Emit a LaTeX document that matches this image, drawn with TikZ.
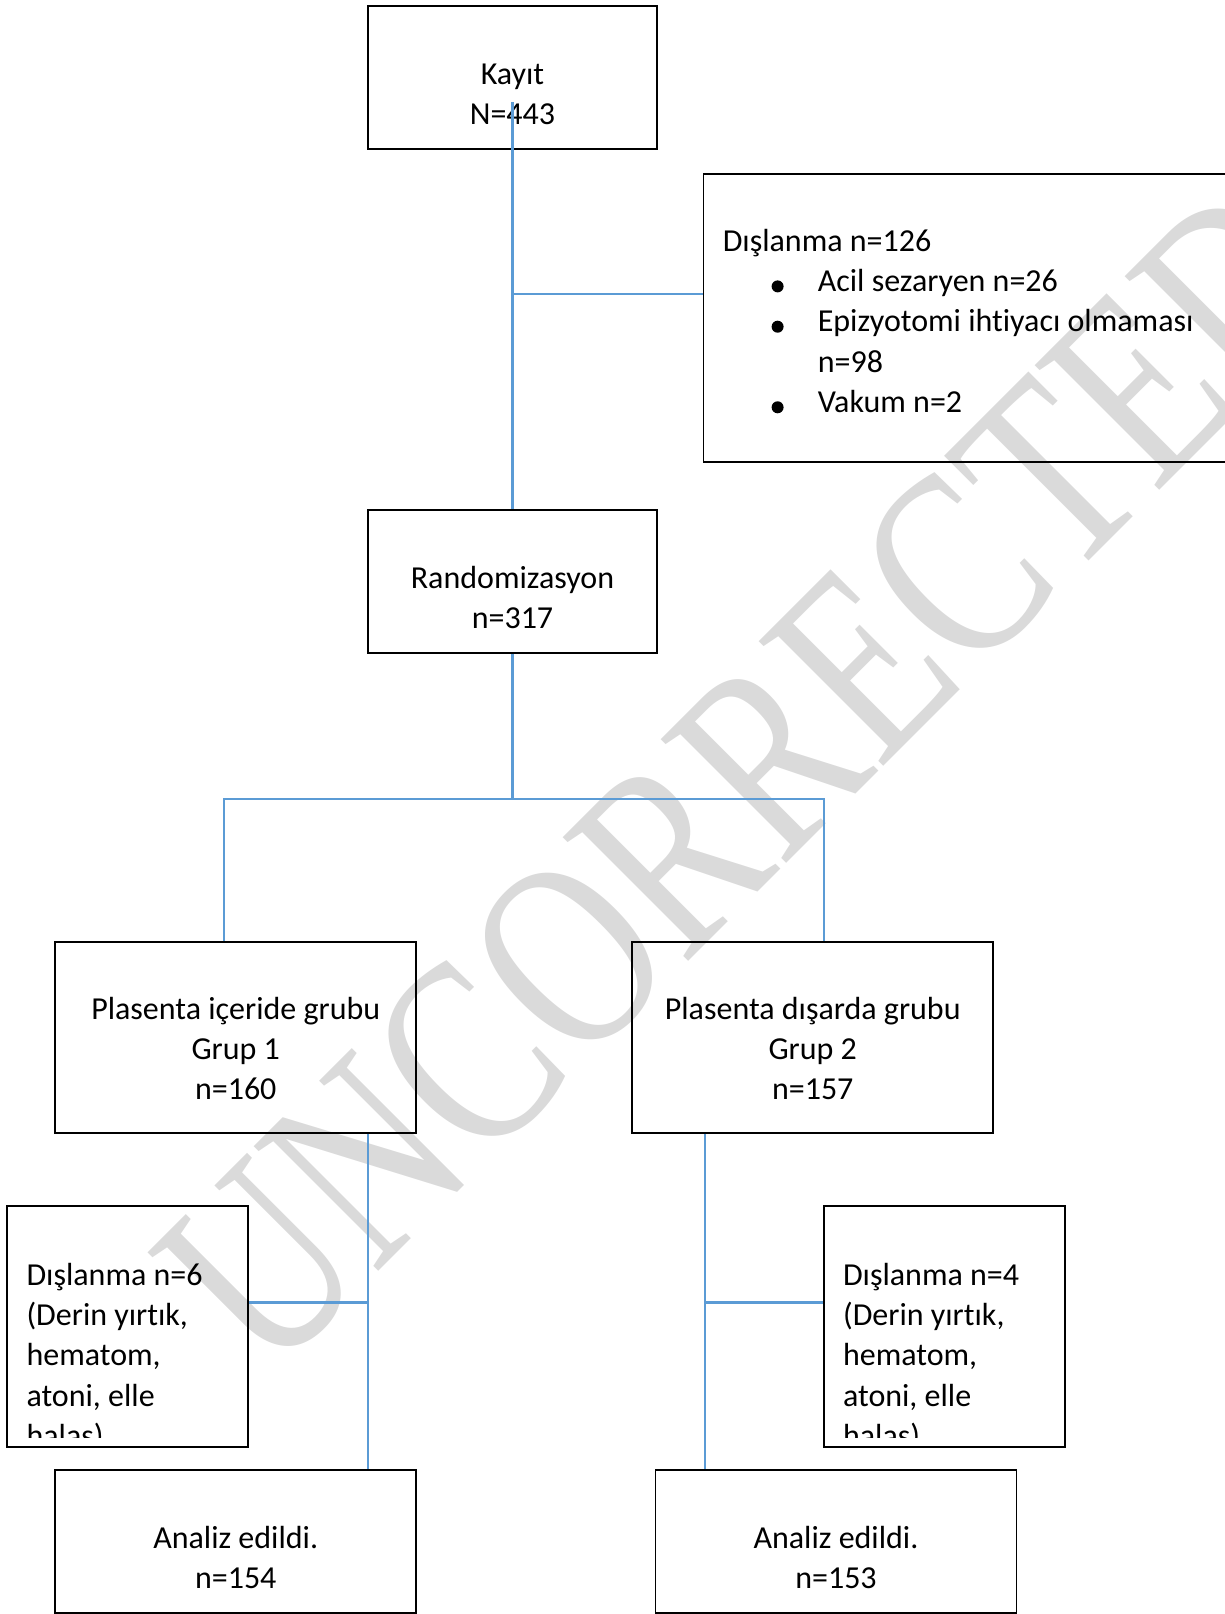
\documentclass[tikz,border=0pt]{standalone}
\usepackage{fontspec}
\setmainfont{Carlito}[Ligatures=NoCommon]
\newfontfamily\filigranfont{Liberation Serif}
\usetikzlibrary{positioning,calc}

\definecolor{cizgimavi}{RGB}{91,155,213}
\definecolor{filigrangri}{RGB}{218,218,218}
\newcommand{\metin}{\fontsize{32}{40.3}\selectfont}

\begin{document}
\begin{tikzpicture}[x=1pt,y=-1pt,
    kutu/.style={draw,line width=1.8pt,inner sep=0pt},
    yazi/.style={inner sep=0pt,font=\metin},
    bag/.style={draw=cizgimavi,line width=2.2pt}]
    \useasboundingbox (0,0) rectangle (1224,1614);
    \node[rotate=45,text=filigrangri,inner sep=0pt,font=\filigranfont\fontsize{207}{207}\selectfont] (filigran) at (748,778) {\scalebox{1}[1.3]{UNCORRECTED}};

    \node[kutu,minimum width=289pt,minimum height=143pt] (kayit) at (512.5,77.5) {};
    \node[kutu,minimum width=547pt,minimum height=288pt] (dislanma) at (977,318) {};
    \node[kutu,minimum width=289pt,minimum height=143pt] (random) at (512.5,581.5) {};
    \node[kutu,minimum width=361pt,minimum height=191pt] (grup1) at (235.75,1037.5) {};
    \node[kutu,minimum width=361pt,minimum height=191pt] (grup2) at (812.75,1037.5) {};
    \node[kutu,minimum width=241pt,minimum height=241pt] (dislanma1) at (127.75,1326.5) {};
    \node[kutu,minimum width=241pt,minimum height=241pt] (dislanma2) at (944.25,1326.5) {};
    \node[kutu,minimum width=361pt,minimum height=143pt] (analiz1) at (235.75,1541.5) {};
    \node[kutu,minimum width=361pt,minimum height=143pt] (analiz2) at (836,1541.5) {};

    % base = baseline of the last line
    \node[yazi,align=center,anchor=base] (kayityazi) at ($(kayit.north)+(0,119.3)$) {Kayıt\\N=443};
    \node[yazi,align=left,anchor=base west] (dislanmayazi) at ($(dislanma.north west)+(20,239.2)$)
      {Dışlanma n=126\\\hspace*{95pt}Acil sezaryen n=26\\\hspace*{95pt}Epizyotomi ihtiyacı olmaması\\\hspace*{95pt}n=98\\\hspace*{95pt}Vakum n=2};
    \foreach \satir in {1,2,4}
      \fill ($(dislanma.north west)+(75,78+\satir*40.3-5)$) circle (6pt);
    \node[yazi,align=center,anchor=base] (randomyazi) at ($(random.north)+(0,119.3)$) {Randomizasyon\\n=317};
    \node[yazi,align=center,anchor=base] (grup1yazi) at ($(grup1.north)+(0,158.6)$) {Plasenta içeride grubu\\Grup 1\\n=160};
    \node[yazi,align=center,anchor=base] (grup2yazi) at ($(grup2.north)+(0,158.6)$) {Plasenta dışarda grubu\\Grup 2\\n=157};
    \begin{scope}
      \clip (dislanma1.north west) rectangle ($(dislanma1.south east)+(0,-10)$);
      \node[yazi,align=left,anchor=base west] (dislanma1yazi) at ($(dislanma1.north west)+(20,241.2)$)
        {Dışlanma n=6\\(Derin yırtık,\\hematom,\\atoni, elle\\halas)};
    \end{scope}
    \begin{scope}
      \clip (dislanma2.north west) rectangle ($(dislanma2.south east)+(0,-10)$);
      \node[yazi,align=left,anchor=base west] (dislanma2yazi) at ($(dislanma2.north west)+(20,241.2)$)
        {Dışlanma n=4\\(Derin yırtık,\\hematom,\\atoni, elle\\halas)};
    \end{scope}
    \node[yazi,align=center,anchor=base] (analiz1yazi) at ($(analiz1.north)+(0,119.3)$) {Analiz edildi.\\n=154};
    \node[yazi,align=center,anchor=base] (analiz2yazi) at ($(analiz2.north)+(0,119.3)$) {Analiz edildi.\\n=153};

    \coordinate (k1) at ($(kayit.center)+(0,24.5)$);
    \coordinate (d0) at ($(dislanma.west)+(0,-24)$);
    \draw[bag] (k1) -- (random.north);
    \draw[bag] (d0) -- (d0 -| k1);
    \coordinate (ayrim) at ($(random.south)+(0,145)$);
    \coordinate (sol) at ($(grup1.north)+(-12,0)$);
    \coordinate (sag) at ($(grup2.north)+(11,0)$);
    \draw[bag] (random.south) -- (ayrim);
    \draw[bag] (sol) |- (ayrim) -| (sag);
    \coordinate (g1) at ($(grup1.south)+(132,0)$);
    \coordinate (d1) at ($(dislanma1.east)+(0,-24)$);
    \draw[bag] (g1) -- (g1 |- analiz1.north);
    \draw[bag] (d1) -- (d1 -| g1);
    \coordinate (g2) at ($(grup2.south)+(-108,0)$);
    \coordinate (d2) at ($(dislanma2.west)+(0,-24)$);
    \draw[bag] (g2) -- (g2 |- analiz2.north);
    \draw[bag] (d2) -- (d2 -| g2);
\end{tikzpicture}
\end{document}
